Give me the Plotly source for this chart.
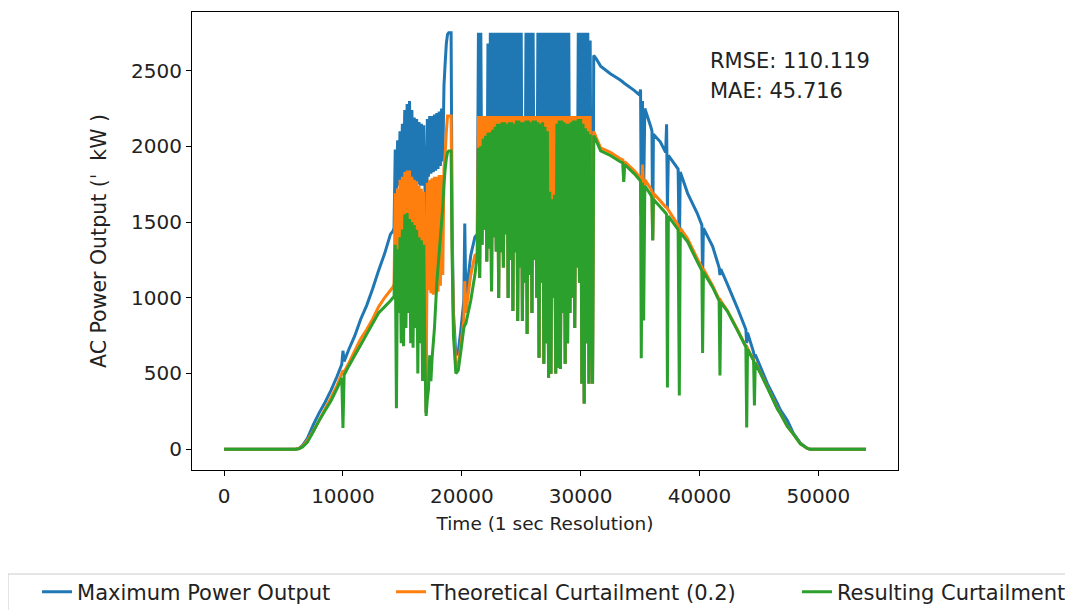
import plotly.graph_objects as go

# time (s) and AC power (kW), read off the reference plot block by block
# morning ramp
t_ramp = [0, 6000, 6300, 6600, 7000, 7500, 8000, 8500, 9000, 9500, 9900, 10000, 10100,
          10500, 11000, 11500, 12000, 12500, 13000, 13500, 14000, 14200]
max_ramp = [0, 0, 5, 25, 70, 160, 240, 310, 390, 480, 560, 650, 580,
            660, 750, 860, 950, 1060, 1180, 1290, 1420, 1440]
theo_ramp = [0, 0, 4, 20, 55, 120, 190, 265, 340, 420, 500, 520, 510,
             570, 650, 730, 790, 860, 940, 1000, 1050, 1070]
res_ramp = [0, 0, 3, 15, 45, 115, 190, 255, 320, 400, 470, 140, 490,
            550, 620, 690, 760, 830, 900, 940, 980, 1000]

# noisy late morning
t_morning = [14300, 14400, 14500, 14600, 14700, 14800, 14900, 15000, 15100, 15200,
             15300, 15400, 15500, 15600, 15700, 15800, 15900, 16000, 16100, 16200,
             16300, 16400, 16500, 16600, 16700, 16800, 16900, 17000, 17100, 17200,
             17300, 17400, 17500, 17600, 17700, 17800, 17900, 18000, 18100, 18200,
             18300, 18400, 18500, 18600, 18700, 18800, 18900, 19000, 19100]
max_morning = [1460, 1980, 1720, 2040, 1740, 2100, 1740, 2150, 1760, 2240,
               1780, 2280, 1800, 2300, 1780, 2240, 1760, 2190, 1750, 2180,
               1750, 2160, 1740, 2150, 1740, 2140, 1730, 240, 2180, 1800,
               2200, 1820, 2200, 1830, 2210, 1840, 2220, 1850, 2230, 1870,
               2250, 1900, 2400, 2550, 2680, 2740, 2750, 2750, 2750]
theo_morning = [1090, 1690, 1150, 1720, 1250, 1780, 1220, 1800, 1200, 1830,
                1300, 1840, 1280, 1840, 1250, 1800, 1300, 1780, 1250, 1770,
                1250, 1740, 1200, 1720, 1200, 1700, 1150, 240, 1760, 1050,
                1780, 1030, 1790, 1020, 1800, 1030, 1800, 1040, 1810, 1080,
                1810, 1150, 1850, 1950, 2100, 2200, 2200, 2200, 2200]
res_morning = [1000, 1350, 270, 1320, 900, 1400, 700, 1450, 680, 1550,
               800, 1560, 900, 1520, 700, 1500, 670, 1480, 800, 1450,
               500, 1400, 700, 1380, 450, 1350, 600, 220, 330, 400,
               620, 450, 600, 700, 800, 950, 1100, 1200, 1300, 1400,
               1500, 1600, 1750, 1850, 1920, 1960, 1970, 1970, 1970]

# cloud dip
t_dip = [19180, 19300, 19500, 19700, 19910, 20170, 20250, 20340, 20750, 21100, 21300]
max_dip = [1500, 900, 620, 640, 780, 980, 1490, 1000, 1280, 1400, 1420]
theo_dip = [1400, 820, 550, 560, 680, 850, 1110, 900, 1150, 1280, 1290]
res_dip = [1300, 750, 500, 520, 640, 800, 820, 830, 980, 1150, 1280]

# midday, clipped at the inverter limit and curtailed
t_midday = [21400, 21500, 21600, 21700, 21800, 21900, 22000, 22100, 22200, 22300,
            22400, 22500, 22600, 22700, 22800, 22900, 23000, 23100, 23200, 23300,
            23400, 23500, 23600, 23700, 23800, 23900, 24000, 24100, 24200, 24300,
            24400, 24500, 24600, 24700, 24800, 24900, 25000, 25100, 25200, 25300,
            25400, 25500, 25600, 25700, 25800, 25900, 26000, 26100, 26200, 26300,
            26400, 26500, 26600, 26700, 26800, 26900, 27000, 27100, 27200, 27300,
            27400, 27500, 27600, 27700, 27800, 27900, 28000, 28100, 28200, 28300,
            28400, 28500, 28600, 28700, 28800, 28900, 29000, 29100, 29200, 29300,
            29400, 29500, 29600, 29700, 29800, 29900, 30000, 30100, 30200, 30300,
            30400, 30500, 30600, 30700, 30800, 30900, 31000]
max_midday = [2750, 1130, 2750, 1350, 2200, 1450, 2200, 1240, 2680, 1326,
              2750, 1043, 2750, 1400, 2750, 1306, 2750, 998, 2750, 1300,
              2750, 1200, 2750, 1420, 2750, 998, 2750, 1250, 2750, 912,
              2750, 1300, 2750, 846, 2750, 1200, 2750, 846, 2200, 1100,
              2750, 761, 2750, 1150, 2750, 900, 2750, 1250, 2200, 1000,
              2750, 604, 2750, 1100, 2750, 564, 2750, 700, 2750, 472,
              2750, 498, 2750, 1000, 2750, 500, 2750, 538, 2750, 530,
              2750, 900, 2750, 564, 2750, 700, 2750, 900, 2200, 1000,
              2200, 800, 2200, 1200, 2750, 1100, 2750, 433, 2750, 302,
              2750, 700, 2750, 433, 2700, 1000, 433]
theo_midday = [2200, 1130, 2200, 1350, 2200, 1450, 2200, 1240, 2200, 1326,
               2200, 1043, 2200, 1400, 2200, 1306, 2200, 998, 2200, 1300,
               2200, 1200, 2200, 1420, 2200, 998, 2200, 1250, 2200, 912,
               2200, 1300, 2200, 846, 2200, 1200, 2200, 846, 2200, 1100,
               2200, 761, 2200, 1150, 2200, 900, 2200, 1250, 2200, 1000,
               2200, 604, 2200, 1100, 2200, 564, 2200, 700, 2200, 472,
               2200, 498, 2200, 1000, 2200, 500, 2200, 538, 2200, 530,
               2200, 900, 2200, 564, 2200, 700, 2200, 900, 2200, 1000,
               2200, 800, 2200, 1200, 2200, 1100, 2200, 433, 2200, 302,
               2200, 700, 2200, 433, 2200, 1000, 433]
res_midday = [1990, 1130, 2000, 1350, 2050, 1450, 2070, 1240, 2090, 1326,
              2093, 1043, 2110, 1400, 2130, 1306, 2150, 998, 2150, 1300,
              2160, 1200, 2160, 1420, 2150, 998, 2160, 1250, 2160, 912,
              2150, 1300, 2170, 846, 2170, 1200, 2160, 846, 2160, 1100,
              2170, 761, 2170, 1150, 2160, 900, 2170, 1250, 2170, 1000,
              2160, 604, 2150, 1100, 2160, 564, 2130, 700, 2100, 472,
              1700, 498, 1650, 1000, 1680, 500, 2150, 538, 2170, 530,
              2170, 900, 2160, 564, 2150, 700, 2150, 900, 2160, 1000,
              2170, 800, 2170, 1200, 2180, 1100, 2180, 433, 2150, 302,
              2120, 700, 2100, 433, 2080, 1000, 433]

# afternoon decline
t_evening = [31100, 31300, 31680, 32500, 33300, 33550, 33620, 33700, 34500, 34950,
             35040, 35100, 35200, 35300, 35400, 35900, 36000, 36060, 36120, 36700,
             37150, 37230, 37300, 37380, 38200, 38300, 38380, 39000, 39800, 40200,
             40260, 40330, 41100, 41650, 41720, 41790, 42350, 43190, 43900, 43970,
             44040, 44550, 44620, 44690, 45710, 46550, 46800, 47390, 47900, 48490,
             49080, 49300, 54000]
max_evening = [2600, 2580, 2530, 2480, 2440, 2425, 2420, 2415, 2370, 2340,
               2375, 1550, 2300, 1700, 2250, 2130, 2100, 1380, 2080, 2030,
               1960, 2146, 1590, 1940, 1850, 1290, 1830, 1690, 1560, 1480,
               1130, 1460, 1340, 1200, 1150, 1190, 1089, 932, 790, 700,
               770, 640, 600, 625, 433, 302, 260, 190, 105, 40,
               5, 0, 0]
theo_evening = [2100, 2060, 1990, 1960, 1920, 1910, 1770, 1900, 1840, 1800,
                1790, 1550, 1880, 1700, 1780, 1720, 1700, 1380, 1690, 1640,
                1600, 1600, 1590, 1580, 1480, 1290, 1460, 1390, 1260, 1200,
                1130, 1190, 1080, 990, 990, 980, 915, 790, 680, 680,
                665, 590, 560, 575, 410, 270, 236, 150, 100, 35,
                5, 0, 0]
res_evening = [2070, 2040, 1970, 1940, 1900, 1890, 1765, 1880, 1820, 1780,
               1770, 600, 1760, 850, 1740, 1680, 1660, 1380, 1650, 1600,
               1560, 1550, 407, 1540, 1450, 354, 1430, 1370, 1240, 1180,
               636, 1170, 1070, 980, 486, 970, 910, 785, 675, 144,
               660, 585, 289, 570, 407, 265, 236, 150, 100, 35,
               5, 0, 0]

time_s = t_ramp + t_morning + t_dip + t_midday + t_evening
max_power = max_ramp + max_morning + max_dip + max_midday + max_evening
theo_curt = theo_ramp + theo_morning + theo_dip + theo_midday + theo_evening
res_curt = res_ramp + res_morning + res_dip + res_midday + res_evening
assert len(time_s) == len(max_power) == len(theo_curt) == len(res_curt)

rmse_text = "RMSE: 110.119"
mae_text = "MAE: 45.716"

FONT = "DejaVu Sans"
TXT = "#222222"
LW = 3

# (name, values, colour, legend id, legend x in paper coords)
series = [
    ("Maximum Power Output", max_power, "#1f77b4", "legend", -0.2195),
    ("Theoretical Curtailment (0.2)", theo_curt, "#ff7f0e", "legend2", 0.2819),
    ("Resulting Curtailment", res_curt, "#2ca02c", "legend3", 0.8569),
]

fig = go.Figure()
for name, vals, color, leg, _ in series:
    fig.add_trace(go.Scatter(x=time_s, y=vals, mode="lines", name=name, legend=leg,
                             line=dict(color=color, width=LW, simplify=False)))

fig.add_annotation(x=40730, y=2565, xref="x", yref="y", text=rmse_text, showarrow=False,
                   xanchor="left", yanchor="middle", font=dict(size=21, color=TXT))
fig.add_annotation(x=40730, y=2365, xref="x", yref="y", text=mae_text, showarrow=False,
                   xanchor="left", yanchor="middle", font=dict(size=21, color=TXT))

axis_style = dict(showline=True, mirror=True, linecolor="black", linewidth=1,
                  ticks="outside", ticklen=5, tickwidth=1, tickcolor="black",
                  showgrid=False, zeroline=False,
                  tickfont=dict(size=20, color=TXT))

fig.update_xaxes(range=[-2700, 56700], tickvals=[0, 10000, 20000, 30000, 40000, 50000],
                 tickformat="d", ticklabelstandoff=3,
                 title=dict(text="Time (1 sec Resolution)", font=dict(size=18.5, color=TXT),
                            standoff=10),
                 **axis_style)
fig.update_yaxes(range=[-137.5, 2887.5], tickvals=[0, 500, 1000, 1500, 2000, 2500],
                 title=dict(text="AC Power Output (ˈ\u00a0\u00a0kW\u00a0)",
                            font=dict(size=20.5, color=TXT), standoff=18),
                 **axis_style)

# one legend per entry so the row can span the full width, framed by one box
legend_common = dict(orientation="h", y=-0.2664, yanchor="middle", xanchor="left",
                     bgcolor="rgba(0,0,0,0)", borderwidth=0,
                     font=dict(size=21, color=TXT))
fig.update_layout(**{leg: dict(x=lx, **legend_common) for _, _, _, leg, lx in series})
fig.add_shape(type="rect", xref="paper", yref="paper", x0=-0.2606, x1=1.3, y0=-0.34, y1=-0.2271,
              line=dict(color="#cccccc", width=1), fillcolor="rgba(0,0,0,0)", layer="below")

# the page adds an 8px body margin, so the plot box is placed 8px up/left of where it shows
fig.update_layout(
    width=1073, height=610,
    margin=dict(l=184, r=183, t=4, b=148, autoexpand=False),
    paper_bgcolor="white", plot_bgcolor="white",
    font=dict(family=FONT, color=TXT),
    showlegend=True,
)

fig.write_html("out.html")
